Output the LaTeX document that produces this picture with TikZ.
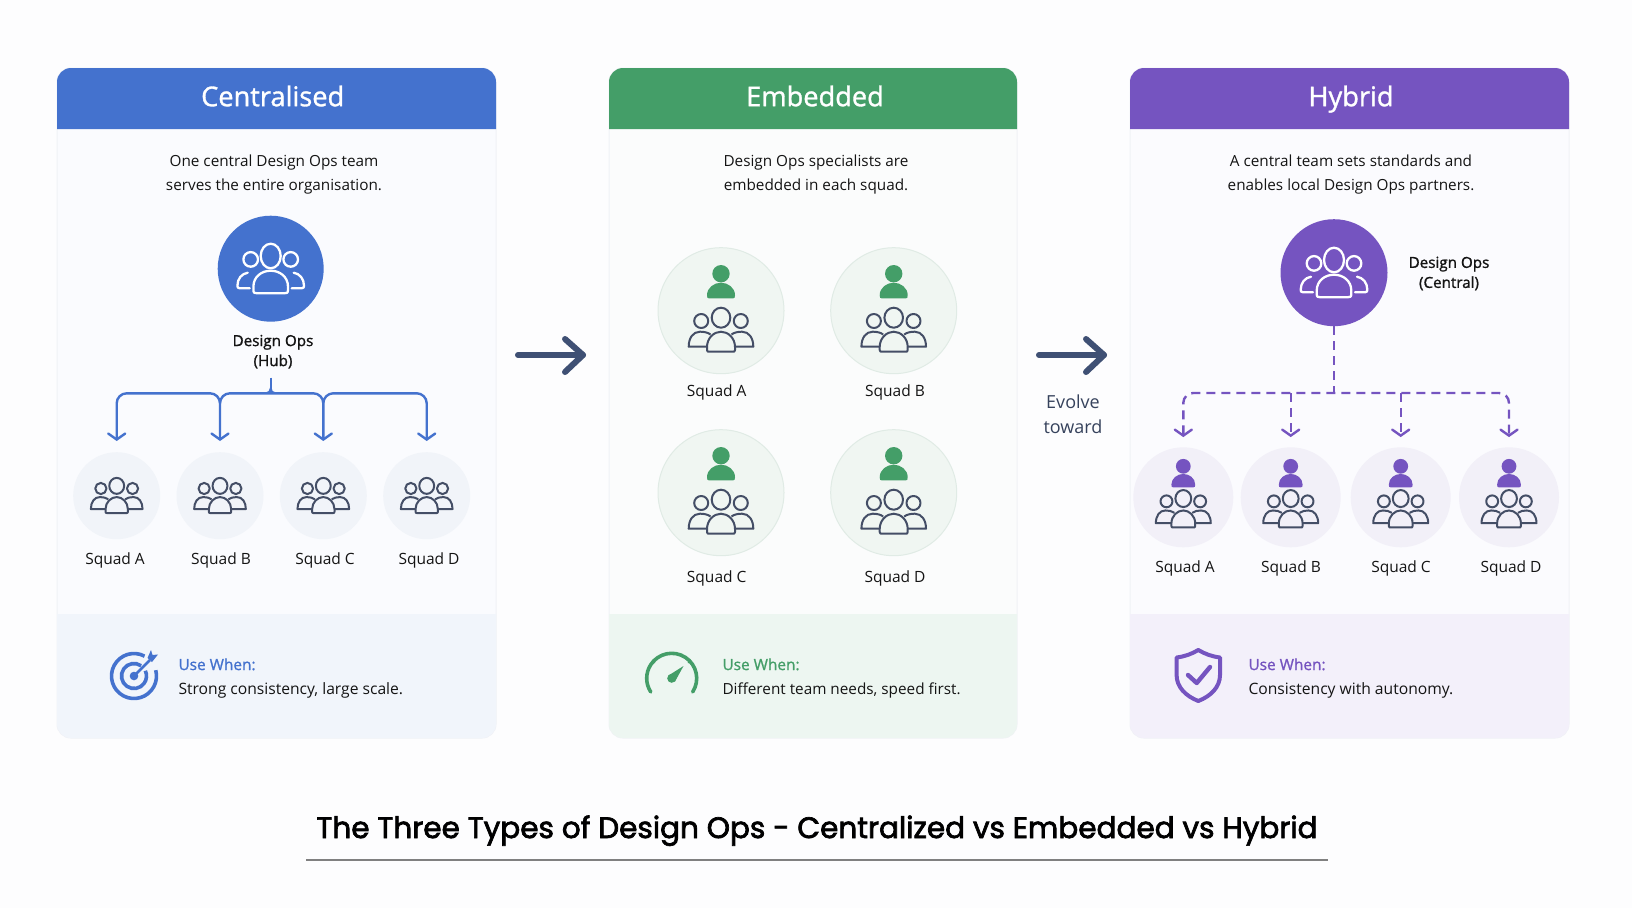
\documentclass[tikz,border=0pt]{standalone}
\usepackage{fontspec}
\usetikzlibrary{arrows.meta}
\setmainfont{Open Sans}
\newfontfamily\medfont[FakeBold=1.2]{Open Sans}
\newfontfamily\titlefont[FakeBold=2.4]{Poppins}
\definecolor{pageBg}{HTML}{FDFDFE}
\definecolor{cardBgA}{HTML}{FAFBFE}
\definecolor{cardBgB}{HTML}{FBFCFC}
\definecolor{cardBgC}{HTML}{FBFBFE}
\definecolor{cardEdge}{HTML}{F0F2F6}
\definecolor{blueC}{HTML}{4472CE}
\definecolor{greenC}{HTML}{449E68}
\definecolor{purpleC}{HTML}{7554C0}
\definecolor{blueBand}{HTML}{F1F5FB}
\definecolor{greenBand}{HTML}{EDF6F1}
\definecolor{purpleBand}{HTML}{F3F0FA}
\definecolor{blueDisc}{HTML}{F1F4F9}
\definecolor{greenDisc}{HTML}{F0F6F2}
\definecolor{greenRim}{HTML}{E0EBE5}
\definecolor{purpleDisc}{HTML}{F2F0F8}
\definecolor{inkC}{HTML}{444E66}
\definecolor{slateC}{HTML}{3F5074}
\definecolor{evoC}{HTML}{36425C}
\definecolor{txtC}{HTML}{141414}
\newcommand{\cardtop}[5]{\fill[#5] (#1,#4) -- (#1,#3+14) arc[start angle=180,end angle=90,radius=14pt] -- (#2-14,#3) arc[start angle=90,end angle=0,radius=14pt] -- (#2,#4) -- cycle;}
\newcommand{\cardbot}[5]{\fill[#5] (#1,#3) -- (#1,#4-14) arc[start angle=180,end angle=270,radius=14pt] -- (#2-14,#4) arc[start angle=270,end angle=360,radius=14pt] -- (#2,#3) -- cycle;}
\tikzset{
  x=1pt,y=-1pt,
  cardbody/.style={fill=#1,draw=cardEdge,line width=1pt,rounded corners=14pt},
  headtxt/.style={text=white,font=\medfont\fontsize{27.2pt}{30pt}\selectfont,inner sep=0pt,anchor=base},
  desctxt/.style={text=txtC,align=center,font=\fontsize{15.3pt}{24pt}\selectfont,inner sep=0pt},
  hubtxt/.style={text=txtC,align=center,font=\medfont\fontsize{15.2pt}{20pt}\selectfont,inner sep=0pt},
  squadtxt/.style={text=txtC,font=\fontsize{15.5pt}{20pt}\selectfont,inner sep=0pt},
  whenhead/.style={font=\medfont\fontsize{15.4pt}{20pt}\selectfont,inner sep=0pt,anchor=west},
  whentxt/.style={text=txtC,font=\fontsize{15.5pt}{20pt}\selectfont,inner sep=0pt,anchor=west},
  disc/.style={circle,inner sep=0pt,minimum size=#1},
  barbtip/.style={-{Straight Barb[length=6pt,width=17pt,line cap=round]}},
  twobarb/.style={{Straight Barb[length=6pt,width=17pt,line cap=round]}-{Straight Barb[length=6pt,width=17pt,line cap=round]}},
  bigarrow/.style={draw=slateC,line width=6pt,line cap=round,line join=round},
  pics/teamicon/.style={code={
    \begin{scope}[draw=inkC,line width=2pt,line join=round]
      \draw (0,-12.3) circle[x radius=9.3pt,y radius=10pt];
      \draw (-19.8,-9) circle[radius=7pt];
      \draw (19.8,-9) circle[radius=7pt];
      \draw (-14,17) .. controls (-14,8) and (-7,1.7) .. (0,1.7) .. controls (7,1.7) and (14,8) .. (14,17) -- (14,20) .. controls (14,21.7) and (13,21.7) .. (12,21.7) -- (-12,21.7) .. controls (-13,21.7) and (-14,21.7) .. (-14,20) -- cycle;
      \draw (-14,16.7) -- (-32.3,16.7) .. controls (-32.3,8) and (-28,1.7) .. (-21,1.7) .. controls (-17,1.7) and (-13,2.5) .. (-10.5,4.5);
      \draw (14,16.7) -- (32.3,16.7) .. controls (32.3,8) and (28,1.7) .. (21,1.7) .. controls (17,1.7) and (13,2.5) .. (10.5,4.5);
    \end{scope}
  }},
  pics/hubteam/.style={code={
    \begin{scope}[draw=white,line width=2.3pt,line join=round,line cap=round]
      \draw (0,-12.7) circle[x radius=10pt,y radius=12.3pt];
      \draw (-20,-9.3) circle[radius=7.3pt];
      \draw (20,-9.3) circle[radius=7.3pt];
      \draw (-17.3,18) .. controls (-17.3,8) and (-9,2) .. (0,2) .. controls (9,2) and (17.3,8) .. (17.3,18) -- (17.3,21) .. controls (17.3,24.5) and (16,24.5) .. (14,24.5) -- (-14,24.5) .. controls (-16,24.5) and (-17.3,24.5) .. (-17.3,21) -- cycle;
      \draw (-21,19.6) -- (-31,19.6) .. controls (-33,19.6) and (-33.3,18.5) .. (-33.3,17) .. controls (-33.3,10) and (-29,5) .. (-23,4);
      \draw (21,19.6) -- (31,19.6) .. controls (33,19.6) and (33.3,18.5) .. (33.3,17) .. controls (33.3,10) and (29,5) .. (23,4);
    \end{scope}
  }},
  pics/personicon/.style={code={
    \fill[#1] (0,0) circle[radius=8.7pt];
    \fill[#1] (-14,21.5) .. controls (-14,14) and (-7,9) .. (0,9) .. controls (7,9) and (14,14) .. (14,21.5) .. controls (14,24) and (13.5,24.7) .. (12,24.7) -- (-12,24.7) .. controls (-13.5,24.7) and (-14,24) .. (-14,21.5) -- cycle;
  }},
}
\begin{document}
\begin{tikzpicture}
\useasboundingbox (0,0) rectangle (1632,908);
\fill[pageBg] (0,0) rectangle (1632,908);

% ---- cards
\draw[cardbody=cardBgA] (57,68) rectangle (496,738);
\cardbot{57}{496}{614}{738}{blueBand}
\cardtop{57}{496}{68}{129}{blueC}
\draw[cardbody=cardBgB] (609,68) rectangle (1017,738);
\cardbot{609}{1017}{614}{738}{greenBand}
\cardtop{609}{1017}{68}{129}{greenC}
\draw[cardbody=cardBgC] (1130,68) rectangle (1569,738);
\cardbot{1130}{1569}{614}{738}{purpleBand}
\cardtop{1130}{1569}{68}{129}{purpleC}

\node[headtxt] (h1) at (272.7,106.2) {Centralised};
\node[headtxt] (h2) at (815,106.2) {Embedded};
\node[headtxt] (h3) at (1351,106.2) {Hybrid};

\node[desctxt] (d1) at (274,174.8) {One central Design Ops team\\serves the entire organisation.};
\node[desctxt] (d2) at (816,174.8) {Design Ops specialists are\\embedded in each squad.};
\node[desctxt] (d3) at (1351,174.8) {A central team sets standards and\\enables local Design Ops partners.};

% ---- Centralised
\node[disc=106pt,fill=blueC] (hubA) at (270.7,268.7) {};
\pic at (hubA) {hubteam};
\node[hubtxt] (hubAtxt) at (273,351.7) {Design Ops\\(Hub)};
\foreach \n/\x/\lx/\t in {A/116.7/115/Squad A,B/220/221/Squad B,C/323.3/325/Squad C,D/426.7/429/Squad D}{
  \node[disc=87pt,fill=blueDisc] (a\n) at (\x,495.7) {};
  \pic[scale=.8] at (a\n) {teamicon};
  \node[squadtxt] (at\n) at (\lx,560) {\t};
}
\coordinate (busA) at (116.7,393.3);
\coordinate (busB) at (220,393.3);
\coordinate (busC) at (323.3,393.3);
\coordinate (busD) at (426.7,393.3);
\coordinate (busM) at (270.7,393.3);
\coordinate (stemT) at (270.7,377.7);
\begin{scope}[draw=blueC,line width=2.4pt]
  \draw[twobarb,rounded corners=10pt,shorten <=11pt,shorten >=11pt] (aA.north) -- (busA) -- (busB) -- (aB.north);
  \draw[rounded corners=10pt] (busB)++(0,10) -- (busB) -- (busC) -- ++(0,10);
  \draw[twobarb,rounded corners=10pt,shorten <=11pt,shorten >=11pt] (aC.north) -- (busC) -- (busD) -- (aD.north);
  \draw (stemT) -- (busM);
  \draw[line width=1.6pt] (265.7,393.3) .. controls (268.7,393) and (270.7,391) .. (270.7,388) .. controls (270.7,391) and (272.7,393) .. (275.7,393.3);
\end{scope}

% ---- Embedded
\foreach \n/\x/\y/\lx/\ly/\t in {A/721/310.7/716.7/392.7/Squad A,B/893.7/310.7/895/392.7/Squad B,C/721/492.7/716.7/578.7/Squad C,D/893.7/492.7/895/578.7/Squad D}{
  \node[disc=126pt,fill=greenDisc,draw=greenRim,line width=1pt] (b\n) at (\x,\y) {};
  \pic at ([yshift=37pt]b\n) {personicon=greenC};
  \pic at ([yshift=-19.3pt]b\n) {teamicon};
  \node[squadtxt] (bt\n) at (\lx,\ly) {\t};
}

% ---- Hybrid
\node[disc=107pt,fill=purpleC] (hubC) at (1334,272.7) {};
\pic at (hubC) {hubteam};
\node[hubtxt] (hubCtxt) at (1449,273.5) {Design Ops\\(Central)};
\foreach \n/\x/\lx/\t in {A/1183.3/1185/Squad A,B/1290.7/1291/Squad B,C/1400.7/1401/Squad C,D/1509/1511/Squad D}{
  \node[disc=100pt,fill=purpleDisc] (c\n) at (\x,497.3) {};
  \pic[scale=.85] at ([yshift=31pt]c\n) {personicon=purpleC};
  \pic[scale=.85] at ([yshift=-11.7pt]c\n) {teamicon};
  \node[squadtxt] (ct\n) at (\lx,568.7) {\t};
}
\coordinate (dbusA) at (1183.3,393);
\coordinate (dbusB) at (1290.7,393);
\coordinate (dbusC) at (1400.7,393);
\coordinate (dbusD) at (1509,393);
\coordinate (dbusM) at (1334,393);
\begin{scope}[draw=purpleC,line width=2.4pt,dash pattern=on 9pt off 6pt]
  \draw[twobarb,rounded corners=10pt,shorten <=10pt,shorten >=10pt] (cA.north) -- (dbusA) -- (dbusD) -- (cD.north);
  \draw[barbtip,shorten >=10pt] (dbusB) -- (cB.north);
  \draw[barbtip,shorten >=10pt] (dbusC) -- (cC.north);
  \draw (hubC.south) -- (dbusM);
\end{scope}

% ---- between the cards
\coordinate (arrS1) at (518,355);
\coordinate (arrE1) at (583,355);
\coordinate (arrS2) at (1039,355);
\coordinate (arrE2) at (1104,355);
\draw[bigarrow] (arrS1) -- (arrE1);
\draw[bigarrow] (565,339) -- (arrE1) -- (565,372);
\draw[bigarrow] (arrS2) -- (arrE2);
\draw[bigarrow] (1086,339) -- (arrE2) -- (1086,372);
\node[text=evoC,align=center,inner sep=0pt,font=\fontsize{18pt}{24.5pt}\selectfont] (evo) at (1073,414.3) {Evolve\\toward};

% ---- use-when bands
\node[whenhead,text=blueC] (w1a) at (178.3,664.3) {Use When:};
\node[whentxt] (w1b) at (178.3,690.2) {\fontsize{15.65pt}{20pt}\selectfont Strong consistency, large scale.};
\node[whenhead,text=greenC] (w2a) at (722.3,664.3) {Use When:};
\node[whentxt] (w2b) at (722.3,690.2) {\fontsize{15.3pt}{20pt}\selectfont Different team needs, speed first.};
\node[whenhead,text=purpleC] (w3a) at (1248.3,664.3) {Use When:};
\node[whentxt] (w3b) at (1248.3,690.2) {\fontsize{15.65pt}{20pt}\selectfont Consistency with autonomy.};

% target icon
\coordinate (tgt) at (134,676);
\draw[blueC,line width=3.6pt] ([shift={(62:22.5pt)}]tgt) arc[start angle=62,end angle=375,radius=22.5pt];
\draw[blueC,line width=3.6pt] ([shift={(55:12.5pt)}]tgt) arc[start angle=55,end angle=385,radius=12.5pt];
\fill[blueC] (tgt) circle[radius=4.3pt];
\draw[blueC,line width=2.6pt] (tgt) -- (150,660);
\fill[blueC] (147.5,658) -- (151,650) -- (152.5,655) -- (158,654.5) -- (152,662) -- cycle;

% gauge icon
\coordinate (gge) at (671.7,678.3);
\draw[greenC,line width=3.6pt,line cap=round] ([shift={(-33:25pt)}]gge) arc[start angle=-33,end angle=213,radius=25pt];
\fill[greenC] (gge) circle[radius=4.5pt];
\fill[greenC] (668.5,675.5) -- (683.5,666) -- (675,681.5) -- cycle;
\draw[greenC,line width=1pt] (691,660) -- (688,663);
\draw[greenC,line width=1pt] (652,660) -- (655,663);

% shield icon
\draw[purpleC,line width=4pt,line join=round] (1198.3,650) .. controls (1205,654) and (1212,656.5) .. (1220,657.5) -- (1220,675) .. controls (1220,687) and (1211,696) .. (1198.3,701) .. controls (1185.6,696) and (1176.6,687) .. (1176.6,675) -- (1176.6,657.5) .. controls (1184.6,656.5) and (1191.6,654) .. (1198.3,650) -- cycle;
\draw[purpleC,line width=4.4pt,line cap=round,line join=round] (1188,675) -- (1196.7,683) -- (1210,667);

% ---- title
\node[inner sep=0pt,anchor=base,text=black,font=\titlefont\fontsize{29.5pt}{34pt}\selectfont] (ttl) at (817,838) {The Three Types of Design Ops - Centralized vs Embedded vs Hybrid};
\coordinate (ruleL) at (306,860);
\coordinate (ruleR) at (1328,860);
\draw[draw=gray,line width=1.6pt] (ruleL) -- (ruleR);
\end{tikzpicture}
\end{document}
